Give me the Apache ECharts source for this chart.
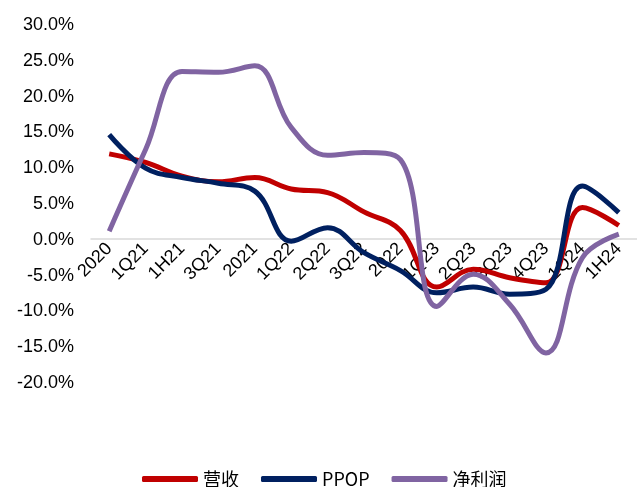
<!DOCTYPE html>
<html><head><meta charset="utf-8">
<script src="https://cdn.jsdelivr.net/npm/echarts@6/dist/echarts.min.js"></script>
<style>html,body{margin:0;padding:0;background:#fff}#c{width:637px;height:487px}</style>
</head><body><div id="c"></div>
<script>
const categories = ['2020','1Q21','1H21','3Q21','2021','1Q22','2Q22','3Q22','2022','1Q23','2Q23','3Q23','4Q23','1Q24','1H24'];
const revenue = [12.0, 10.8, 8.9, 8.1, 8.7, 7.1, 6.6, 3.9, 1.3, -6.6, -4.1, -5.3, -6.0, 4.5, 2.0];
const ppop = [14.7, 10.0, 8.7, 7.9, 6.8, -0.2, 1.7, -1.8, -4.3, -7.4, -6.6, -7.6, -6.9, 7.5, 3.8];
const netProfit = [1.2, 12.6, 23.5, 23.4, 24.3, 15.7, 11.8, 12.2, 11.2, -9.3, -4.8, -9.0, -15.8, -2.5, 0.8];
const seriesNames = ['营收', 'PPOP', '净利润'];
const colors = ['#C00000', '#002060', '#8064A2'];

const chart = echarts.init(document.getElementById('c'));
const font = 'Arial, "Liberation Sans", "Noto Sans CJK SC", sans-serif';
const mk = (name, data, color) => ({
  name, type: 'line', data, smooth: 0.4, symbol: 'none',
  lineStyle: { color, width: 5 }, itemStyle: { color }
});
chart.setOption({
  animation: false,
  grid: { left: 91, top: 25, width: 553, bottom: 104 },
  legend: {
    top: 469, left: 142, padding: 0, icon: 'roundRect', itemWidth: 56, itemHeight: 6, itemGap: 22,
    textStyle: { fontSize: 18, lineHeight: 20, color: '#000', fontFamily: '"Noto Sans CJK SC", sans-serif' },
    data: seriesNames
  },
  xAxis: {
    type: 'category', data: categories, boundaryGap: true,
    position: 'bottom', offset: -144,
    axisLine: { onZero: false, lineStyle: { color: '#d9d9d9', width: 1.5 } },
    axisTick: { show: false },
    axisLabel: { interval: 0, rotate: 45, fontSize: 18, color: '#000', fontFamily: font, margin: 7 }
  },
  yAxis: {
    type: 'value', min: -20, max: 30, interval: 5,
    axisLine: { show: false }, axisTick: { show: false }, splitLine: { show: false },
    axisLabel: { fontSize: 18, color: '#000', fontFamily: font, margin: 17,
      formatter: v => v.toFixed(1) + '%' }
  },
  series: [
    mk(seriesNames[0], revenue, colors[0]),
    mk(seriesNames[1], ppop, colors[1]),
    mk(seriesNames[2], netProfit, colors[2])
  ]
});
</script></body></html>
